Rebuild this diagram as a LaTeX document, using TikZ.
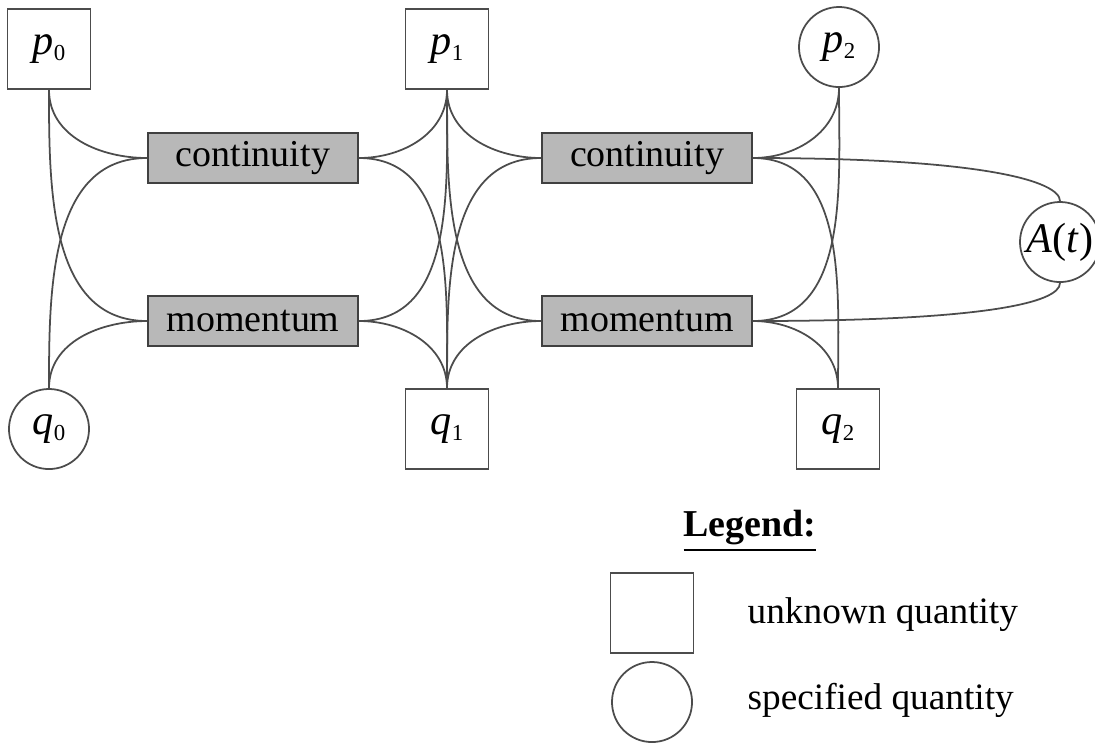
\documentclass[tikz,border=0pt]{standalone}
\usepackage{fontspec}
\setmainfont{Liberation Serif}
\usetikzlibrary{positioning}

\newcommand{\varlbl}[2]{\textit{#1}\raisebox{-0.3ex}{\fontsize{6.5}{7}\selectfont #2}}

\tikzset{
  unknown/.style={draw=black!70, line width=0.5pt, minimum width=0.83cm, minimum height=0.8cm, inner sep=0pt, font=\fontsize{12}{14}\selectfont},
  given/.style={draw=black!70, line width=0.5pt, circle, minimum size=0.8cm, inner sep=0pt, font=\fontsize{12}{14}\selectfont},
  eqn/.style={draw=black!75, line width=0.5pt, fill=black!28, minimum width=2.1cm, minimum height=0.5cm, inner sep=0pt, font=\fontsize{10.8}{12}\selectfont},
  link/.style={draw=black!70, line width=0.5pt},
  keytext/.style={anchor=west, inner sep=0pt, font=\fontsize{10.6}{12}\selectfont},
}

\begin{document}
\begin{tikzpicture}[x=0.01cm, y=-0.01cm]
\useasboundingbox (0,0) rectangle (1095,744);

% positions
\def\ytop{49}
\def\ybot{429}
\def\ycon{158}
\def\ymom{321}

% quantities
\node[unknown] (p0) at (49,\ytop)  {\varlbl{p}{0}};
\node[given]   (q0) at (49,\ybot)  {\varlbl{q}{0}};
\node[unknown] (p1) at (447,\ytop) {\varlbl{p}{1}};
\node[unknown] (q1) at (447,\ybot) {\varlbl{q}{1}};
\node[given]   (p2) at (839,47)    {\varlbl{p}{2}};
\node[unknown] (q2) at (838,\ybot) {\varlbl{q}{2}};
\node[given]   (A)  at (1060,242)  {\textit{A}(\textit{t})};

% equations
\node[eqn] (c1) at (253,\ycon) {continuity};
\node[eqn] (m1) at (253,\ymom) {momentum};
\node[eqn] (c2) at (647,\ycon) {continuity};
\node[eqn] (m2) at (647,\ymom) {momentum};

% links into the first pair
\foreach \e in {c1,m1} {
  \draw[link] (p0.south) to[out=-90,in=180] (\e.west);
  \draw[link] (q0.north) to[out=90,in=180] (\e.west);
}

% links through node 1
\foreach \e in {c1,m1} {
  \draw[link] (p1.south) to[out=-90,in=0] (\e.east);
  \draw[link] (q1.north) to[out=90,in=0] (\e.east);
}
\foreach \e in {c2,m2} {
  \draw[link] (p1.south) to[out=-90,in=180] (\e.west);
  \draw[link] (q1.north) to[out=90,in=180] (\e.west);
}

% links out of the second pair
\foreach \e in {c2,m2} {
  \draw[link] (p2.south) to[out=-90,in=0] (\e.east);
  \draw[link] (q2.north) to[out=90,in=0] (\e.east);
}
\draw[link] (c2.east) .. controls +(230,0) and +(0,-20) .. (A.north);
\draw[link] (m2.east) .. controls +(230,0) and +(0,20) .. (A.south);

% legend
\node[inner sep=0pt, font=\fontsize{10.8}{12}\selectfont] (legend) at (750,531) {\underline{\textbf{Legend:}}};
\node[unknown] (keyU) at (652,613) {};
\node[given]   (keyG) at (652,702) {};
\node[keytext] (txtU) at (747,615) {unknown quantity};
\node[keytext] (txtG) at (747,700) {specified quantity};

\end{tikzpicture}
\end{document}
